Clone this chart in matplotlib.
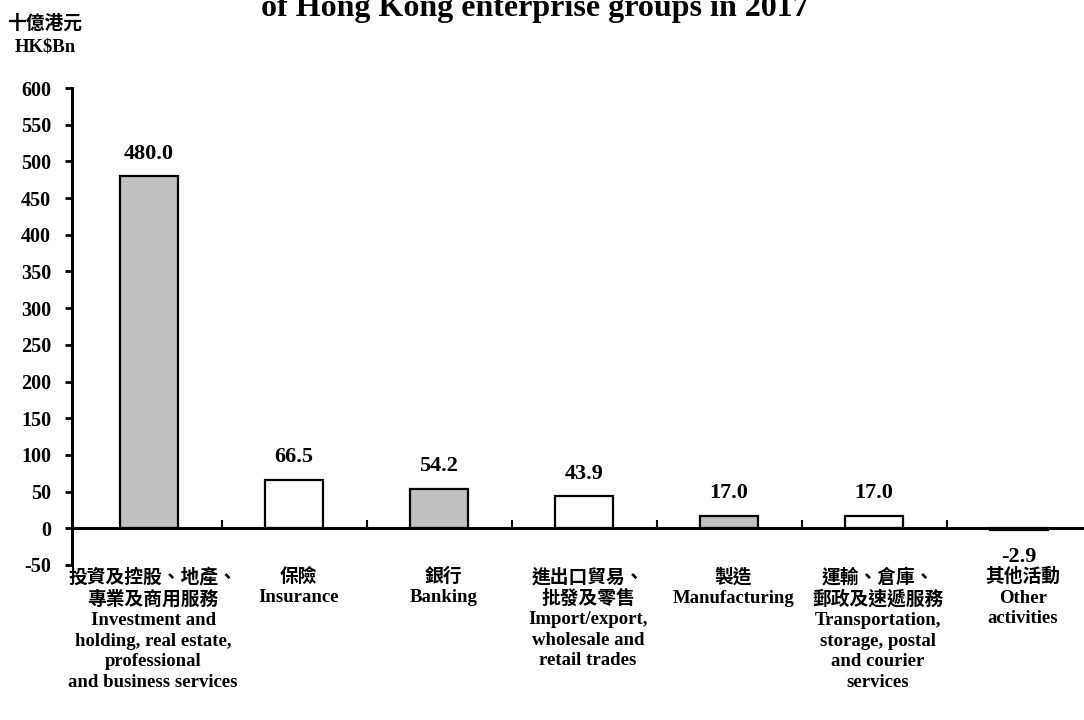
import matplotlib
matplotlib.use('Agg')
import matplotlib.pyplot as plt

plt.rcParams['font.family'] = ['Liberation Serif', 'Noto Sans CJK TC']
plt.rcParams['font.weight'] = 'bold'

categories_zh = ['投資及控股、地產、\n專業及商用服務', '保險', '銀行', '進出口貿易、\n批發及零售',
                 '製造', '運輸、倉庫、\n郵政及速遞服務', '其他活動']
categories_en = ['Investment and\nholding, real estate,\nprofessional\nand business services',
                 'Insurance', 'Banking', 'Import/export,\nwholesale and\nretail trades',
                 'Manufacturing', 'Transportation,\nstorage, postal\nand courier\nservices',
                 'Other\nactivities']
values = [480.0, 66.5, 54.2, 43.9, 17.0, 17.0, -2.9]
bar_colors = ['#c0c0c0', 'white', '#c0c0c0', 'white', '#c0c0c0', 'white', '#c0c0c0']
yticks = list(range(-50, 601, 50))

W, H = 1084, 720
fig = plt.figure(figsize=(W / 100, H / 100), dpi=100)
ax = fig.add_axes([72 / W, 1 - 565 / H, (W - 72) / W, (565 - 88) / H])

x = list(range(len(values)))
ax.bar(x, values, width=0.4, color=bar_colors, edgecolor='black', linewidth=1.6, zorder=3)

ax.set_xlim(-(149 - 72) / 145, (W - 149) / 145)
ax.set_ylim(-50, 600)
ax.set_yticks(yticks)
ax.set_yticklabels([str(v) for v in yticks], fontsize=14.5, fontweight='bold')
ax.tick_params(axis='y', direction='out', length=5, width=2, pad=10)

ax.set_xticks([i + 0.5 for i in x[:-1]])
ax.set_xticklabels([])
ax.tick_params(axis='x', direction='in', length=6, width=1.5)

for s in ['top', 'right']:
    ax.spines[s].set_visible(False)
ax.spines['bottom'].set_position(('data', 0))
ax.spines['bottom'].set_linewidth(2.2)
ax.spines['bottom'].set_zorder(4)
ax.spines['left'].set_linewidth(2.2)

# value labels
for i, v in enumerate(values):
    off = 9 if v >= 0 else -12
    ax.annotate('%.1f' % v, (i, v), xytext=(0, off), textcoords='offset points',
                ha='center', va='bottom' if v >= 0 else 'top', fontsize=16, fontweight='bold')

# category labels
for i in x:
    txt = categories_zh[i] + '\n' + categories_en[i]
    ax.annotate(txt, (i, 0), xycoords=('data', 'axes fraction'), xytext=(3, -2),
                textcoords='offset points', ha='center', va='top', fontsize=13.5,
                fontweight='bold', linespacing=1.26, annotation_clip=False)

fig.text(45 / W, 1 - 24 / H, '十億港元', ha='center', va='center', fontsize=13.5, fontweight='bold')
fig.text(45 / W, 1 - 47 / H, 'HK$Bn', ha='center', va='center', fontsize=13.5, fontweight='bold')
fig.text(535 / W, 1 - 16 / H, 'of Hong Kong enterprise groups in 2017', ha='center', va='baseline',
         fontsize=23, fontweight='bold')

fig.savefig('out.png', dpi=100)
